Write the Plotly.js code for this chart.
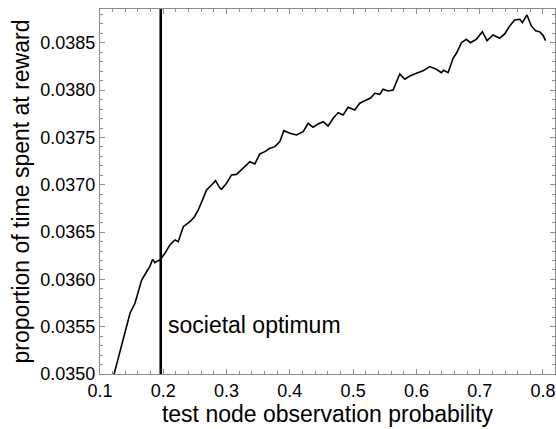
<!DOCTYPE html>
<html>
<head>
<meta charset="utf-8">
<script src="https://cdn.plot.ly/plotly-3.0.1.min.js"></script>
<style>html,body{margin:0;padding:0;background:#fff;}#chart{width:556px;height:429px;}</style>
</head>
<body>
<div id="chart"></div>
<script>
// test node observation probability
const xVals = [0.1215, 0.1280, 0.1342, 0.1410, 0.1474, 0.1553, 0.1610, 0.1658, 0.1737, 0.1790, 0.1832, 0.1868, 0.1910, 0.1947, 0.2026, 0.2105, 0.2184, 0.2237, 0.2316, 0.2421, 0.2490, 0.2553, 0.2620, 0.2684, 0.2763, 0.2826, 0.2895, 0.2921, 0.3000, 0.3079, 0.3158, 0.3263, 0.3368, 0.3447, 0.3526, 0.3605, 0.3684, 0.3763, 0.3842, 0.3905, 0.4000, 0.4105, 0.4211, 0.4289, 0.4368, 0.4447, 0.4526, 0.4605, 0.4684, 0.4763, 0.4842, 0.4921, 0.5026, 0.5105, 0.5211, 0.5280, 0.5342, 0.5421, 0.5474, 0.5553, 0.5632, 0.5690, 0.5737, 0.5816, 0.5895, 0.6000, 0.6105, 0.6211, 0.6316, 0.6395, 0.6432, 0.6500, 0.6579, 0.6632, 0.6711, 0.6789, 0.6853, 0.6947, 0.7042, 0.7116, 0.7211, 0.7316, 0.7395, 0.7474, 0.7553, 0.7632, 0.7674, 0.7747, 0.7816, 0.7884, 0.7947, 0.8000, 0.8042];
// proportion of time spent at reward
const yVals = [0.03498, 0.03515, 0.035325, 0.03548, 0.035642, 0.035747, 0.03587, 0.035994, 0.036081, 0.03614, 0.036212, 0.036177, 0.036195, 0.036205, 0.036276, 0.036364, 0.036416, 0.036399, 0.036557, 0.036610, 0.03666, 0.036734, 0.03684, 0.036945, 0.036998, 0.037043, 0.036963, 0.036952, 0.037016, 0.037104, 0.037110, 0.037174, 0.037244, 0.037220, 0.037326, 0.037350, 0.037386, 0.037403, 0.037456, 0.037572, 0.037544, 0.037526, 0.037561, 0.037650, 0.037608, 0.037643, 0.037667, 0.037622, 0.037703, 0.037762, 0.037738, 0.037819, 0.037791, 0.037862, 0.037896, 0.03792, 0.037967, 0.037956, 0.038009, 0.037992, 0.038002, 0.03809, 0.038171, 0.038115, 0.038150, 0.038179, 0.038206, 0.038249, 0.038221, 0.038185, 0.038210, 0.038185, 0.038337, 0.038390, 0.038502, 0.038538, 0.038502, 0.038538, 0.038618, 0.038523, 0.038584, 0.038549, 0.038594, 0.038679, 0.038742, 0.038749, 0.038714, 0.038795, 0.038679, 0.038629, 0.038618, 0.03858, 0.038523];
const optimumX = 0.196;
const optimumLabel = "societal optimum";
const xTitle = "test node observation probability";
const yTitle = "proportion of time spent at reward";
const xRange = [0.1, 0.819];
const yRange = [0.035, 0.038858];

const frame = '#8c8c8c';
const font = 'Liberation Sans, Arial, sans-serif';

const traces = [
  {x: xVals, y: yVals, type: 'scatter', mode: 'lines', line: {color: '#000', width: 1.6}, hoverinfo: 'skip'},
  {x: [optimumX, optimumX], y: yRange, type: 'scatter', mode: 'lines', line: {color: '#000', width: 2.6}, hoverinfo: 'skip', cliponaxis: false}
];

const layout = {
  width: 556, height: 429,
  margin: {l: 100, r: 1, t: 9, b: 55},
  paper_bgcolor: '#fff', plot_bgcolor: '#fff',
  showlegend: false,
  font: {family: font, color: '#000'},
  xaxis: {
    range: xRange, dtick: 0.1, tick0: 0.1, tickformat: '.1f',
    ticks: 'inside', ticklen: 5, tickwidth: 1, tickcolor: frame,
    minor: {dtick: 0.02, ticks: 'inside', ticklen: 3, tickcolor: frame},
    showline: true, linecolor: frame, linewidth: 1, mirror: 'ticks',
    showgrid: false, zeroline: false,
    tickfont: {size: 18, family: font, color: '#000'},
    title: {text: xTitle, font: {size: 23, family: font, color: '#000'}, standoff: 6}
  },
  yaxis: {
    range: yRange, dtick: 0.0005, tick0: 0.035, tickformat: '.4f',
    ticks: 'inside', ticklen: 5, tickwidth: 1, tickcolor: frame,
    minor: {dtick: 0.0001, ticks: 'inside', ticklen: 3, tickcolor: frame},
    showline: true, linecolor: frame, linewidth: 1, mirror: 'ticks',
    showgrid: false, zeroline: false,
    tickfont: {size: 18, family: font, color: '#000'},
    title: {text: yTitle, font: {size: 23, family: font, color: '#000'}, standoff: 4}
  },
  annotations: [{
    x: 0.2045, y: 0.03552, xref: 'x', yref: 'y', text: optimumLabel,
    showarrow: false, xanchor: 'left', yanchor: 'middle',
    font: {size: 23, family: font, color: '#000'}
  }]
};

Plotly.newPlot('chart', traces, layout, {displayModeBar: false, staticPlot: true});
</script>
</body>
</html>
